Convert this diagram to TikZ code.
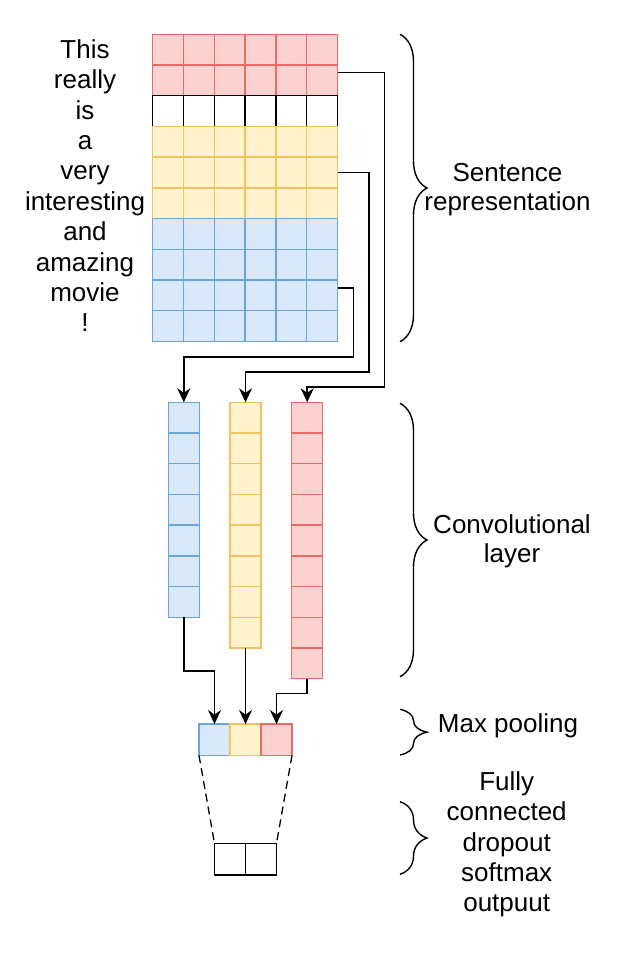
\documentclass[tikz,border=0pt]{standalone}
\usepackage{fontspec}
\setmainfont{Liberation Sans}
\usepackage{tikz}
\usetikzlibrary{calc,arrows.meta,decorations.pathreplacing}
\definecolor{cnnred}{RGB}{252, 210, 208}
\definecolor{cnnredline}{RGB}{234, 107, 102}
\definecolor{cnnyel}{RGB}{255, 242, 204}
\definecolor{cnnyelline}{RGB}{242, 195, 95}
\definecolor{cnnblue}{RGB}{218, 232, 252}
\definecolor{cnnblueline}{RGB}{108, 166, 216}
\tikzset{
  cell/.style={draw, line width=1.4pt, inner sep=0pt, outer sep=0pt, minimum width=30.8pt, minimum height=30.7pt},
  redcell/.style={cell, draw=cnnredline, fill=cnnred},
  whitecell/.style={cell, draw=black, fill=white},
  yelcell/.style={cell, draw=cnnyelline, fill=cnnyel},
  bluecell/.style={cell, draw=cnnblueline, fill=cnnblue},
  boxcell/.style={cell, draw=black, minimum width=31pt, minimum height=31.5pt},
  conn/.style={line width=1.6pt, ->},
  sidebrace/.style={line width=1.4pt, decorate, decoration={brace, amplitude=27pt}},
  label/.style={align=center, inner sep=0pt, font=\fontsize{26}{29}\selectfont}
}

\begin{document}
\begin{tikzpicture}[x=1pt, y=-1pt, >={Stealth[length=14pt,width=13pt,inset=4.5pt]}]
    \useasboundingbox (0,0) rectangle (634,962);
    \foreach \r/\sty in {1/redcell,2/redcell,3/whitecell,4/yelcell,5/yelcell,6/yelcell,7/bluecell,8/bluecell,9/bluecell,10/bluecell}
      \foreach \c in {1,...,6}
        \node[\sty] (s-\r-\c) at ({152.7+30.8*(\c-0.5)}, {34.3+30.7*(\r-0.5)}) {};
    \node[label, font=\fontsize{26}{30.4}\selectfont] (words) at (85,185.6) {This\\really\\is\\a\\very\\interesting\\and\\amazing\\movie\\!};

    \foreach \k in {1,...,7}
      \node[bluecell, minimum width=31pt] (cb-\k) at (183.8, {402.3+30.7*(\k-0.5)}) {};
    \foreach \k in {1,...,8}
      \node[yelcell, minimum width=31pt] (cy-\k) at (245.5, {402.3+30.7*(\k-0.5)}) {};
    \foreach \k in {1,...,9}
      \node[redcell, minimum width=31pt] (cr-\k) at (307.2, {402.3+30.7*(\k-0.5)}) {};

    \node[bluecell, minimum width=31pt, minimum height=31.3pt] (pb) at (214.5,739.7) {};
    \node[yelcell, minimum width=31pt, minimum height=31.3pt] (py) at (245.5,739.7) {};
    \node[redcell, minimum width=31pt, minimum height=31.3pt] (pr) at (276.5,739.7) {};

    \node[boxcell] (out-1) at (230,859.2) {};
    \node[boxcell] (out-2) at (261,859.2) {};

    \coordinate (sred) at ($(s-2-6.east)+(0,-8)$);
    \coordinate (syel) at (s-5-6.east);
    \coordinate (sblue) at ($(s-9-6.east)+(0,-7.5)$);
    \draw[conn] (sred) -| (384.3,386.7) -| (cr-1.north);
    \draw[conn] (syel) -| (368.7,371.7) -| (cy-1.north);
    \draw[conn] (sblue) -| (353.3,356.7) -| (cb-1.north);

    \draw[conn] (cb-7.south) |- (214.5,670.7) -- (pb.north);
    \draw[conn] (cy-8.south) -- (py.north);
    \draw[conn] (cr-9.south) |- (276.5,693.3) -- (pr.north);

    \draw[line width=1.3pt, dash pattern=on 8pt off 5pt] (pb.south west) -- (out-1.north west);
    \draw[line width=1.3pt, dash pattern=on 8pt off 5pt] (pr.south east) -- (out-2.north east);

    \draw[sidebrace] (400,34.3) -- (400,341.7);
    \draw[sidebrace] (400,403.3) -- (400,676.7);
    \draw[sidebrace] (400,709.3) -- (400,755);
    \draw[sidebrace] (400,801.7) -- (400,874.3);

    \node[label] (lsent) at (507.5,189.3) {Sentence\\representation};
    \node[label] (lconv) at (512,541.7) {Convolutional\\layer};
    \node[label] (lpool) at (508,726) {Max pooling};
    \node[label, font=\fontsize{26}{30.3}\selectfont] (lfc) at (506.7,844.5) {Fully\\connected\\dropout\\softmax\\outpuut};
  \end{tikzpicture}
\end{document}
